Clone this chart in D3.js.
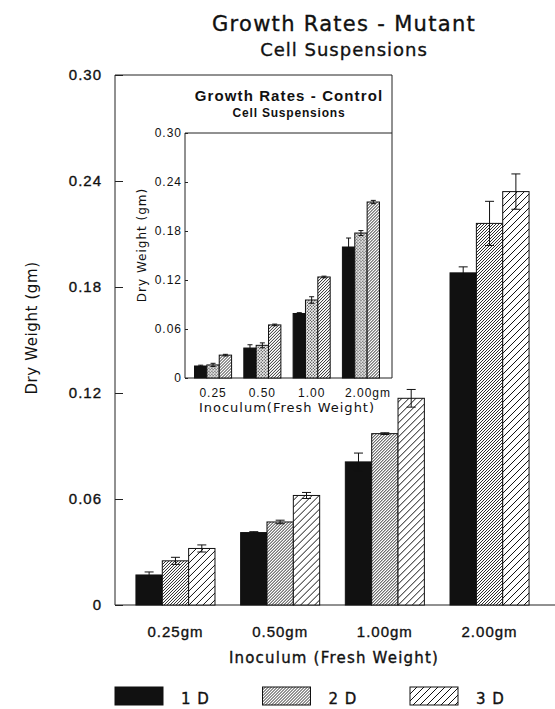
<!DOCTYPE html>
<html>
<head>
<meta charset="utf-8">
<script src="https://cdn.jsdelivr.net/npm/d3@7"></script>
<style>
    body { margin: 0; background: #fff; }
    svg { font-family: "DejaVu Sans", "Liberation Sans", sans-serif; fill: #111; }
    .axis path, .axis line { stroke: #222; stroke-width: 1; }
    .axis .domain { display: none; }
    .frame { stroke: #222; stroke-width: 1; fill: none; }
    .main-tick text { font-size: 15px; letter-spacing: 1px; fill: #111; }
    .inset-tick text { font-size: 12px; letter-spacing: 1px; fill: #111; }
    .heavy, .main-tick text { stroke: #111; stroke-width: 0.35px; }
    .bar { stroke: #111; stroke-width: 1; }
    .err { stroke: #111; stroke-width: 1; fill: none; }
</style>
</head>
<body>
<svg width="555" height="709"></svg>
<script>
// values (gm dry weight)
const categories = ['0.25gm', '0.50gm', '1.00gm', '2.00gm'];
const insetCategories = ['0.25', '0.50', '1.00', '2.00gm'];
const seriesNames = ['1 D', '2 D', '3 D'];
const yTicks = [0, 0.06, 0.12, 0.18, 0.24, 0.30];

// main panel: mutant
const mutant1D = [0.017, 0.041, 0.081, 0.188];
const mutant2D = [0.025, 0.047, 0.097, 0.216];
const mutant3D = [0.032, 0.062, 0.117, 0.234];
const mutantErr1D = [0.0017, 0.0005, 0.005, 0.0034];
const mutantErr2D = [0.002, 0.001, 0.0005, 0.0125];
const mutantErr3D = [0.002, 0.0017, 0.005, 0.010];

// inset: control
const control1D = [0.0147, 0.0367, 0.079, 0.1604];
const control2D = [0.016, 0.040, 0.0955, 0.1775];
const control3D = [0.028, 0.065, 0.1237, 0.2155];
const controlErr1D = [0.001, 0.004, 0.001, 0.011];
const controlErr2D = [0.002, 0.003, 0.004, 0.003];
const controlErr3D = [0.001, 0.001, 0.001, 0.002];

const svg = d3.select('svg');
const fmt = v => v === 0 ? '0' : d3.format('.2f')(v);

//Fill patterns: solid, dense hatch, sparse hatch, stipple
const addPatterns = () => {
    const defs = svg.append('defs');
    const hatch = (id, size, width) => {
        defs.append('pattern')
            .attr('id', id)
            .attr('patternUnits', 'userSpaceOnUse')
            .attr('width', size).attr('height', size)
            .call(p => p.append('rect').attr('width', size).attr('height', size).attr('fill', '#fff'))
            .append('path')
            .attr('d', `M${-size / 2},${size / 2} l${size},${-size} M0,${size} l${size},${-size} M${size / 2},${size * 1.5} l${size},${-size}`)
            .attr('stroke', '#111')
            .attr('stroke-width', width);
    };
    hatch('dense', 3, 0.9);
    hatch('sparse', 7, 1);

    const dots = defs.append('pattern')
        .attr('id', 'dots')
        .attr('patternUnits', 'userSpaceOnUse')
        .attr('width', 3).attr('height', 3);
    dots.append('rect').attr('width', 3).attr('height', 3).attr('fill', '#fff');
    dots.append('circle').attr('cx', 0.75).attr('cy', 0.75).attr('r', 0.7).attr('fill', '#222');
    dots.append('circle').attr('cx', 2.25).attr('cy', 2.25).attr('r', 0.7).attr('fill', '#222');
}

//Grouped bars with symmetric error bars
const drawBars = (g, xScale, yScale, rows, fills, capW) => {
    const sub = d3.scaleBand().domain([0, 1, 2]).range([0, xScale.bandwidth()]);
    const groups = g.selectAll('.group').data(rows)
        .enter().append('g')
        .attr('class', 'group')
        .attr('transform', d => `translate(${xScale(d.cat)},0)`);

    const cells = groups.selectAll('.cell')
        .data(d => d.values.map((v, i) => ({ v, e: d.errs[i], i })))
        .enter().append('g').attr('class', 'cell');

    cells.append('rect')
        .attr('class', 'bar')
        .attr('x', d => sub(d.i))
        .attr('y', d => yScale(d.v))
        .attr('width', sub.bandwidth())
        .attr('height', d => yScale(0) - yScale(d.v))
        .attr('fill', d => fills[d.i]);

    cells.append('path')
        .attr('class', 'err')
        .attr('d', d => {
            const cx = sub(d.i) + sub.bandwidth() / 2;
            const top = yScale(d.v + d.e), bot = yScale(d.v - d.e);
            return `M${cx},${top}V${bot}M${cx - capW / 2},${top}h${capW}M${cx - capW / 2},${bot}h${capW}`;
        });
}

const mainChart = () => {
    const xScale = d3.scaleBand().domain(categories)
        .range([115, 550]).paddingInner(0.245).paddingOuter(0.2);
    const yScale = d3.scaleLinear().domain([0, 0.30]).range([605, 75]);

    const yAxis = d3.axisLeft(yScale).tickValues(yTicks).tickFormat(fmt)
        .tickSizeInner(-8).tickSizeOuter(0).tickPadding(13);
    svg.append('g').attr('class', 'axis main-tick')
        .attr('transform', 'translate(115,0)').call(yAxis);

    const xAxis = d3.axisBottom(xScale).tickSize(0).tickPadding(21);
    svg.append('g').attr('class', 'axis main-tick')
        .attr('transform', 'translate(0,605)').call(xAxis)
        .selectAll('text').attr('letter-spacing', '1.2px');

    // frame: left axis, baseline, top edge
    svg.append('path').attr('class', 'frame')
        .attr('d', `M392,${yScale(0.30)}H115V${yScale(0)}H555`);

    const rows = categories.map((cat, i) => ({
        cat,
        values: [mutant1D[i], mutant2D[i], mutant3D[i]],
        errs: [mutantErr1D[i], mutantErr2D[i], mutantErr3D[i]]
    }));
    drawBars(svg.append('g'), xScale, yScale, rows, ['#111', 'url(#dense)', 'url(#sparse)'], 9);

    svg.append('text').attr('class', 'heavy').attr('x', 344).attr('y', 31)
        .attr('text-anchor', 'middle').attr('font-size', 21).attr('letter-spacing', '1.3px')
        .text('Growth Rates - Mutant');
    svg.append('text').attr('class', 'heavy').attr('x', 344).attr('y', 56)
        .attr('text-anchor', 'middle').attr('font-size', 18).attr('letter-spacing', '1px')
        .text('Cell Suspensions');

    svg.append('text')
        .attr('transform', 'translate(37,328) rotate(-90)')
        .attr('text-anchor', 'middle').attr('font-size', 15).attr('letter-spacing', '0.6px')
        .text('Dry Weight (gm)');

    svg.append('text').attr('class', 'heavy').attr('x', 334).attr('y', 663)
        .attr('text-anchor', 'middle').attr('font-size', 15).attr('letter-spacing', '1.2px')
        .text('Inoculum (Fresh Weight)');
}

const insetChart = () => {
    const xScale = d3.scaleBand().domain(insetCategories)
        .range([185, 389]).paddingInner(0.248).paddingOuter(0.193);
    const yScale = d3.scaleLinear().domain([0, 0.30]).range([378, 133]);

    const yAxis = d3.axisLeft(yScale).tickValues(yTicks).tickFormat(fmt)
        .tickSizeInner(-3).tickSizeOuter(0).tickPadding(3);
    svg.append('g').attr('class', 'axis inset-tick')
        .attr('transform', 'translate(185,0)').call(yAxis);

    const xAxis = d3.axisBottom(xScale).tickSize(0).tickPadding(10);
    const xg = svg.append('g').attr('class', 'axis inset-tick')
        .attr('transform', 'translate(0,378)').call(xAxis);
    // last label hangs to the right of its group
    xg.selectAll('.tick').filter(d => d === '2.00gm').select('text')
        .attr('text-anchor', 'start').attr('x', -16);

    svg.append('path').attr('class', 'frame')
        .attr('d', `M185,${yScale(0.30)}H392M392,75V${yScale(0)}M185,${yScale(0.30)}V${yScale(0)}H392`);

    const rows = insetCategories.map((cat, i) => ({
        cat,
        values: [control1D[i], control2D[i], control3D[i]],
        errs: [controlErr1D[i], controlErr2D[i], controlErr3D[i]]
    }));
    drawBars(svg.append('g'), xScale, yScale, rows, ['#111', 'url(#dots)', 'url(#dense)'], 5);

    svg.append('text').attr('x', 289).attr('y', 101)
        .attr('text-anchor', 'middle').attr('font-family', '"Liberation Sans", Arial, sans-serif')
        .attr('font-weight', 'bold').attr('font-size', 15).attr('letter-spacing', '1.1px')
        .text('Growth Rates - Control');
    svg.append('text').attr('x', 289).attr('y', 117)
        .attr('text-anchor', 'middle').attr('font-family', '"Liberation Sans", Arial, sans-serif')
        .attr('font-weight', 'bold').attr('font-size', 12).attr('letter-spacing', '0.8px')
        .text('Cell Suspensions');

    svg.append('text')
        .attr('transform', 'translate(146,245) rotate(-90)')
        .attr('text-anchor', 'middle').attr('font-size', 12).attr('letter-spacing', '1px')
        .text('Dry Weight (gm)');

    svg.append('text').attr('x', 287).attr('y', 412)
        .attr('text-anchor', 'middle').attr('font-size', 13).attr('letter-spacing', '1px')
        .text('Inoculum(Fresh Weight)');
}

//Legend row under the x axis title
const addingLegend = () => {
    const fills = ['#111', 'url(#dense)', 'url(#sparse)'];
    const legendX = d3.scaleLinear().domain([0, 2]).range([115, 410]);
    const items = svg.selectAll('.legend').data(seriesNames)
        .enter().append('g').attr('class', 'legend')
        .attr('transform', (d, i) => `translate(${legendX(i)},687)`);
    items.append('rect')
        .attr('class', 'bar')
        .attr('width', 48).attr('height', 18)
        .attr('fill', (d, i) => fills[i]);
    items.append('text')
        .attr('class', 'heavy')
        .attr('x', 66).attr('y', 17)
        .attr('font-size', 15).attr('letter-spacing', '1px')
        .text(d => d);
}

addPatterns();
mainChart();
insetChart();
addingLegend();
</script>
</body>
</html>
